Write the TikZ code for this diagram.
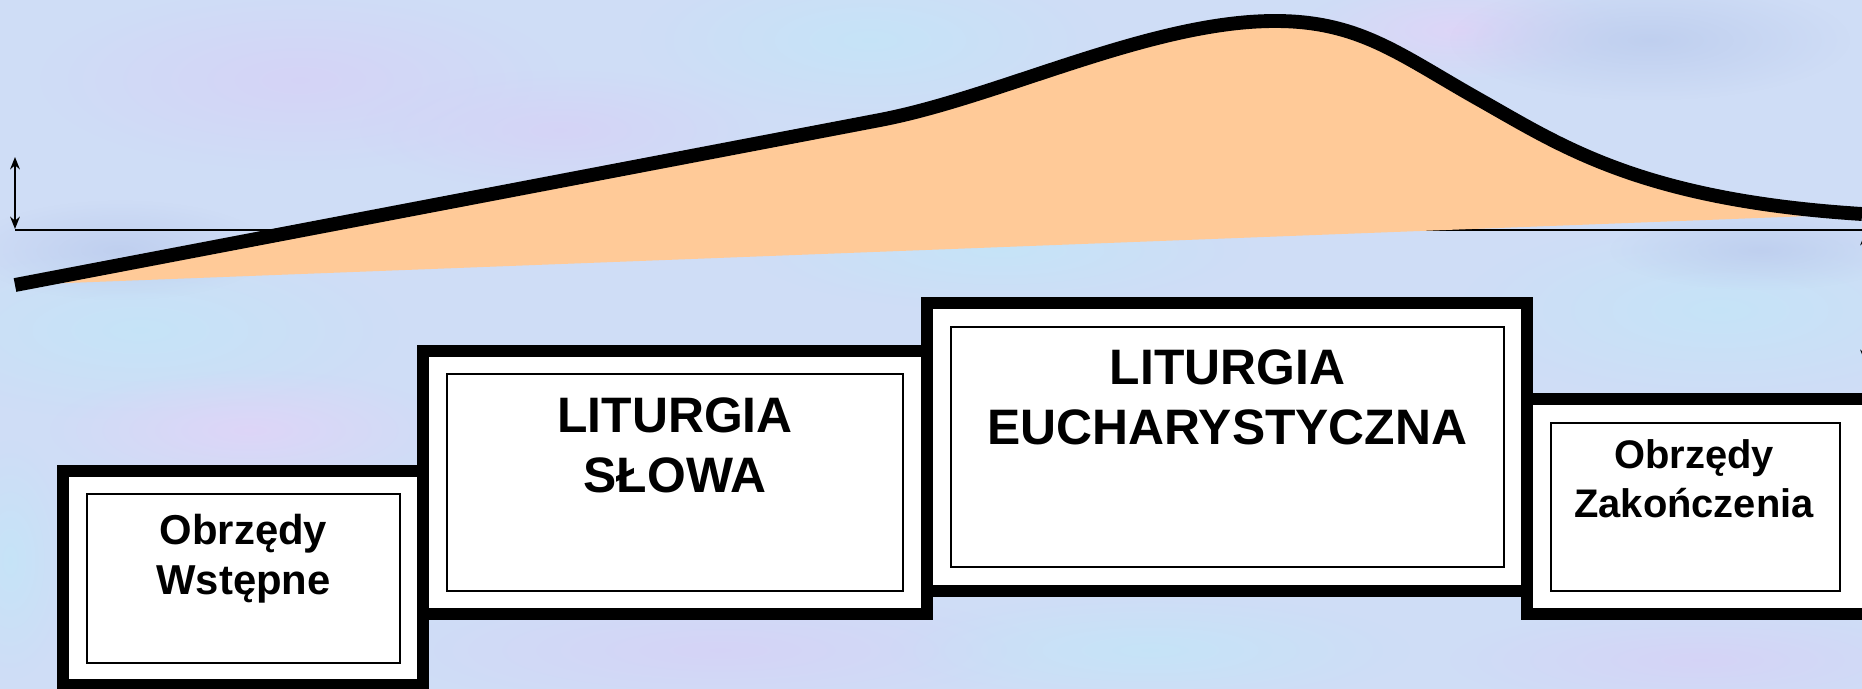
\documentclass[tikz,border=0pt]{standalone}
\usepackage{fontspec}
\setmainfont{Liberation Sans}
\usetikzlibrary{arrows.meta,fadings}
\definecolor{bgbase}{RGB}{207,221,246}
\definecolor{peach}{RGB}{255,202,152}
\definecolor{lav}{RGB}{214,210,246}
\definecolor{pinklav}{RGB}{224,212,248}
\definecolor{cyanish}{RGB}{196,229,248}
\definecolor{dblue}{RGB}{189,205,238}
\tikzfading[name=softblob, inner color=transparent!0, outer color=transparent!100]
\tikzset{
  blob/.style={path fading=softblob, fill opacity=0.85},
  outerbox/.style={draw=black, fill=white, line width=6.8pt, line join=miter},
  innerbox/.style={draw=black, line width=1.1pt},
  bigtxt/.style={font=\bfseries\fontsize{28.35pt}{34pt}\selectfont, anchor=base, inner sep=0pt},
  smalltxt/.style={font=\bfseries\fontsize{23.8pt}{28pt}\selectfont, anchor=base, inner sep=0pt},
  endtxt/.style={font=\bfseries\fontsize{22.7pt}{27pt}\selectfont, anchor=base, inner sep=0pt},
  axisline/.style={draw=black, line width=1.2pt},
  dblarrow/.style={axisline, {Stealth[length=7pt,width=5.5pt]}-{Stealth[length=7pt,width=5.5pt]}},
  curveline/.style={draw=black, line width=7.9pt, line join=round},
}
\begin{document}
\begin{tikzpicture}[x=0.02cm, y=-0.02cm]
\useasboundingbox (0,0) rectangle (1862,689);
% background
\fill[bgbase] (0,0) rectangle (1862,689);
\fill[lav, blob] (300,80) ellipse (260 and 90);
\fill[lav, blob] (560,130) ellipse (200 and 60);
\fill[cyanish, blob] (870,40) ellipse (230 and 80);
\fill[dblue, blob] (1000,200) ellipse (160 and 50);
\fill[cyanish, blob] (1000,250) ellipse (250 and 60);
\fill[pinklav, blob] (1460,30) ellipse (160 and 50);
\fill[dblue, blob] (1650,40) ellipse (200 and 60);
\fill[cyanish, blob] (140,330) ellipse (260 and 90);
\fill[pinklav, blob] (250,430) ellipse (200 and 60);
\fill[dblue, blob] (120,250) ellipse (150 and 50);
\fill[cyanish, blob] (1720,310) ellipse (260 and 90);
\fill[dblue, blob] (1760,250) ellipse (150 and 40);
\fill[lav, blob] (720,650) ellipse (320 and 60);
\fill[cyanish, blob] (1150,650) ellipse (260 and 55);
\fill[lav, blob] (1700,660) ellipse (250 and 50);
\fill[cyanish, blob] (10,560) ellipse (60 and 120);
% axis line and arrows
\coordinate (aTop) at (15,157);
\coordinate (aBot) at (15,229);
\coordinate (h0) at (15,230);
\coordinate (h1) at (1862,230);
\coordinate (rTop) at (1865,233);
\coordinate (rBot) at (1865,362);
\draw[dblarrow] (aTop) -- (aBot);
\draw[axisline] (h0) -- (h1);
\draw[dblarrow] (rTop) -- (rBot);
% curve
\coordinate (c0) at (15,285);
\coordinate (c1) at (880,120);
\coordinate (c2) at (1275,21);
\coordinate (c3) at (1480,100);
\coordinate (c4) at (1862,214);
\fill[peach] (c0) -- (c1) .. controls (1000,97) and (1150,21) .. (c2)
  .. controls (1360,21) and (1400,55) .. (c3)
  .. controls (1560,145) and (1640,200) .. (c4) -- cycle;
\draw[curveline] (c0) -- (c1) .. controls (1000,97) and (1150,21) .. (c2)
  .. controls (1360,21) and (1400,55) .. (c3)
  .. controls (1560,145) and (1640,200) .. (c4);
% boxes
\draw[outerbox] (63,471) rectangle (423,685);
\draw[outerbox] (423,351) rectangle (927,614);
\draw[outerbox] (927,303) rectangle (1527,591);
\draw[outerbox] (1527,399) rectangle (1872,614);
\draw[innerbox] (87,494) rectangle (400,663);
\draw[innerbox] (447,374) rectangle (903,591);
\draw[innerbox] (951,327) rectangle (1504,567);
\draw[innerbox] (1551,423) rectangle (1840,591);
% texts
\node[smalltxt] (b1a) at (243.5,544) {Obrzędy};
\node[smalltxt] (b1b) at (243.5,594) {Wstępne};
\node[bigtxt] (b2a) at (675,432) {LITURGIA};
\node[bigtxt] (b2b) at (675,492) {SŁOWA};
\node[bigtxt] (b3a) at (1227.5,384) {LITURGIA};
\node[bigtxt] (b3b) at (1227.5,444) {EUCHARYSTYCZNA};
\node[endtxt] (b4a) at (1694,468) {Obrzędy};
\node[endtxt] (b4b) at (1694,517) {Zakończenia};
\end{tikzpicture}
\end{document}
